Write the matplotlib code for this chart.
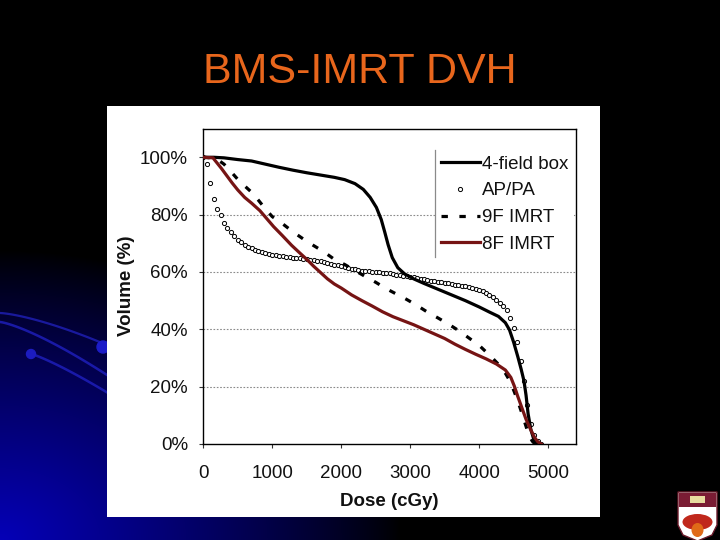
import numpy as np
import matplotlib
matplotlib.use("Agg")
import matplotlib.pyplot as plt
from matplotlib.ticker import FuncFormatter
from matplotlib.lines import Line2D
from matplotlib.patches import Rectangle, Polygon, Circle, Ellipse

plt.rcParams['font.family'] = ['Liberation Sans', 'DejaVu Sans']

# ---------------- data ----------------
title = "BMS-IMRT DVH"
x_label = "Dose (cGy)"
y_label = "Volume (%)"
x_ticks = [0, 1000, 2000, 3000, 4000, 5000]
y_ticks = [0, 20, 40, 60, 80, 100]
series_names = ["4-field box", "AP/PA", "9F IMRT", "8F IMRT"]

box_dose = [0, 150, 300, 500, 700, 900, 1100, 1300, 1500, 1700, 1900, 2050, 2200, 2320,
            2420, 2510, 2580, 2630, 2680, 2740, 2820, 2920, 3050, 3200, 3400, 3600, 3800,
            4000, 4150, 4280, 4380, 4440, 4500, 4560, 4610, 4650, 4680, 4710, 4750, 4790,
            4830, 4870]
box_vol = [100, 100, 99.8, 99.2, 98.7, 97.6, 96.5, 95.5, 94.6, 93.8, 93.0, 92.2, 90.8, 88.8,
           86.0, 82.5, 78.3, 74.0, 69.5, 65.0, 61.5, 59.3, 57.6, 56.0, 54.0, 52.0, 50.0,
           47.8, 46.0, 44.5, 42.3, 39.8, 35.5, 30.5, 26.0, 22.0, 17.0, 10.5, 5.0, 1.8,
           0.3, 0.0]

appa_dose = [0, 50, 100, 150, 200, 250, 300, 350, 400, 450, 500, 550, 600, 650, 700, 750,
             800, 850, 900, 950, 1000, 1050, 1100, 1150, 1200, 1250, 1300, 1350, 1400, 1450,
             1500, 1550, 1600, 1650, 1700, 1750, 1800, 1850, 1900, 1950, 2000, 2050, 2100,
             2150, 2200, 2250, 2300, 2350, 2400, 2450, 2500, 2550, 2600, 2650, 2700, 2750,
             2800, 2850, 2900, 2950, 3000, 3050, 3100, 3150, 3200, 3250, 3300, 3350, 3400,
             3450, 3500, 3550, 3600, 3650, 3700, 3750, 3800, 3850, 3900, 3950, 4000, 4050,
             4100, 4150, 4200, 4250, 4300, 4350, 4400, 4450, 4500, 4550, 4600, 4650, 4700,
             4750, 4800, 4850, 4900]
appa_vol = [100, 97.8, 91.0, 85.3, 82.0, 79.7, 77.2, 75.5, 73.9, 72.5, 71.3, 70.3, 69.5,
            68.8, 68.3, 67.8, 67.3, 66.9, 66.6, 66.2, 66.0, 65.8, 65.6, 65.4, 65.2, 65.1,
            65.0, 64.8, 64.7, 64.5, 64.4, 64.2, 64.1, 63.9, 63.7, 63.5, 63.2, 62.9, 62.6,
            62.3, 62.0, 61.7, 61.4, 61.1, 60.9, 60.7, 60.5, 60.4, 60.2, 60.1, 60.0, 59.9,
            59.8, 59.7, 59.5, 59.3, 59.1, 58.9, 58.7, 58.6, 58.4, 58.2, 58.0, 57.7, 57.4,
            57.1, 56.9, 56.7, 56.5, 56.4, 56.2, 56.0, 55.8, 55.6, 55.4, 55.2, 55.0, 54.8,
            54.5, 54.2, 53.8, 53.3, 52.8, 52.1, 51.2, 50.2, 49.2, 48.3, 46.8, 44.0, 40.5,
            35.5, 29.0, 22.0, 13.5, 7.0, 3.0, 0.9, 0.1]

f9_dose = [0, 150, 230, 300, 400, 500, 600, 700, 800, 900, 1000, 1150, 1300, 1450, 1600,
           1750, 1900, 2050, 2200, 2350, 2500, 2650, 2800, 2950, 3100, 3250, 3400, 3550,
           3700, 3850, 4000, 4150, 4280, 4380, 4450, 4510, 4570, 4620, 4670, 4720, 4770,
           4810]
f9_vol = [100, 99.7, 98.8, 97.6, 95.0, 92.3, 90.0, 87.8, 85.0, 82.0, 79.3, 76.8, 74.0, 71.5,
          69.2, 67.0, 64.4, 62.6, 60.5, 58.4, 56.4, 54.2, 52.3, 50.4, 48.3, 46.0, 44.0, 41.9,
          39.6, 37.0, 34.4, 31.0, 27.8, 24.7, 21.8, 18.2, 14.3, 10.7, 6.9, 3.2, 1.0, 0.0]

f8_dose = [0, 140, 200, 260, 340, 420, 500, 600, 700, 820, 920, 1020, 1150, 1280, 1400, 1500,
           1600, 1700, 1800, 1900, 2000, 2150, 2300, 2450, 2600, 2750, 2900, 3050, 3200,
           3350, 3500, 3650, 3800, 3950, 4100, 4250, 4380, 4460, 4510, 4560, 4620, 4680,
           4740, 4800, 4850, 4900]
f8_vol = [100, 99.8, 98.0, 96.2, 93.6, 91.0, 88.6, 86.0, 84.0, 81.4, 78.6, 75.8, 72.6, 69.3,
          66.6, 64.4, 62.0, 59.8, 57.6, 55.8, 54.4, 52.0, 50.0, 48.1, 46.1, 44.4, 43.0,
          41.6, 40.0, 38.4, 36.8, 34.8, 33.0, 31.3, 29.7, 27.9, 25.8, 23.2, 20.2, 16.6,
          12.6, 8.6, 5.4, 2.4, 0.8, 0.0]

# ---------------- figure ----------------
W, H = 720, 540
fig = plt.figure(figsize=(7.2, 5.4), dpi=100)
fig.patch.set_facecolor('black')

# background (slide)
bg = fig.add_axes([0, 0, 1, 1], zorder=0)
bg.set_xlim(0, W)
bg.set_ylim(H, 0)
bg.axis('off')
yy, xx = np.mgrid[0:H, 0:W]
d = np.sqrt((xx / 400.0) ** 2 + ((H - yy) / 290.0) ** 2)
inten = np.clip(1 - d, 0, 1) ** 0.85
img = np.zeros((H, W, 3))
img[..., 2] = 0.72 * inten
img[..., 0] = 0.02 * inten
bg.imshow(img, extent=(0, W, H, 0), aspect='auto', zorder=0)

# swooshes
sx = np.linspace(0, 110, 60)
bg.plot(sx, 313 + 32 * (sx / 107) ** 1.4, color='#2020b8', lw=1.6, alpha=0.8, zorder=1)
bg.plot(sx, 322 + 53 * (sx / 107) ** 1.3, color='#2020c0', lw=1.8, alpha=0.8, zorder=1)
sx2 = np.linspace(28, 110, 40)
bg.plot(sx2, 353 + 40 * ((sx2 - 28) / 80) ** 1.2, color='#2020c0', lw=1.8, alpha=0.8, zorder=1)
bg.add_patch(Circle((31, 354), 4.5, color='#1c1cc0', zorder=1))
bg.add_patch(Circle((103, 347), 6, color='#1c1cc8', zorder=1))

# white chart panel
bg.add_patch(Rectangle((107, 106), 493, 411, facecolor='white', edgecolor='none', zorder=2))

# logo (shield)
shield = Polygon([(678, 492), (717, 492), (717, 525), (712, 535), (697.5, 541),
                  (683, 535), (678, 525)], closed=True, facecolor='white',
                 edgecolor='#6a1a2a', lw=1.0, zorder=3)
bg.add_patch(shield)
bg.add_patch(Rectangle((679, 493), 37, 14, facecolor='#7a1c34', edgecolor='none', zorder=4))
bg.add_patch(Rectangle((690, 496), 15, 7, facecolor='#e8dca0', edgecolor='none', zorder=5))
bg.add_patch(Ellipse((697.5, 522), 30, 16, facecolor='#c0281c', edgecolor='none', zorder=4))
bg.add_patch(Ellipse((697.5, 530), 12, 14, facecolor='#e06a18', edgecolor='none', zorder=5))

# title
fig.text(360 / W, 1 - 83 / H, title, color='#e8661c', fontsize=31,
         ha='center', va='baseline')

# main axes
ax_left, ax_right = 203.3, 575.7
ax_bottom, ax_top = 444.0, 128.6
ax = fig.add_axes([ax_left / W, 1 - ax_bottom / H, (ax_right - ax_left) / W,
                   (ax_bottom - ax_top) / H], zorder=3)
ax.set_facecolor('white')
ax.set_xlim(0, 5400)
ax.set_ylim(0, 110)

for v in [20, 40, 60, 80]:
    ax.axhline(v, color='#8a8a8a', lw=0.8, ls=(0, (1.5, 1.5)), zorder=1)

ax.plot(appa_dose, appa_vol, ls='none', marker='o', ms=3.0, mfc='white', mec='black',
        mew=0.7, zorder=2)
ax.plot(f9_dose, f9_vol, color='black', lw=2.3, ls=(0, (2.0, 3.6)), zorder=3)
ax.plot(box_dose, box_vol, color='black', lw=2.3, zorder=4)
ax.plot(f8_dose, f8_vol, color='#761414', lw=2.3, zorder=5)

ax.set_xticks(x_ticks)
ax.set_yticks(y_ticks)
ax.yaxis.set_major_formatter(FuncFormatter(lambda v, p: f"{v:.0f}%"))
ax.tick_params(axis='both', direction='out', length=3, width=0.8, color='#333333',
               labelsize=13.5, labelcolor='#111111')
ax.tick_params(axis='x', pad=12)
ax.tick_params(axis='y', pad=8)
for s in ax.spines.values():
    s.set_color('black')
    s.set_linewidth(1.0)

ax.set_xlabel(x_label, fontsize=13.5, fontweight='bold', color='#111111')
ax.set_ylabel(y_label, fontsize=13.5, fontweight='bold', color='#111111')
ax.xaxis.set_label_coords(0.5, -0.183)
ax.xaxis.label.set_va('center')
ax.yaxis.set_label_coords(-0.206, 0.502)
ax.yaxis.label.set_va('center')

handles = [
    Line2D([], [], color='black', lw=2.3),
    Line2D([], [], ls='none', marker='o', ms=3.0, mfc='white', mec='black', mew=0.7),
    Line2D([], [], color='black', lw=2.3, ls=(0, (2.0, 3.6))),
    Line2D([], [], color='#761414', lw=2.3),
]
lx = (435 - ax_left) / (ax_right - ax_left)
ly_top = (ax_bottom - 150) / (ax_bottom - ax_top)
ly_bot = (ax_bottom - 257) / (ax_bottom - ax_top)
leg = ax.legend(handles, series_names, loc='upper left', bbox_to_anchor=(lx, ly_top),
                fontsize=13.5, frameon=True, facecolor='white', edgecolor='white',
                framealpha=1.0, fancybox=False, handlelength=2.1, handletextpad=0.1,
                labelspacing=0.51, borderpad=0.3, borderaxespad=0.0)
leg.get_frame().set_linewidth(0)
for t in leg.get_texts():
    t.set_color('#111111')
leg.set_zorder(10)
ax.add_line(Line2D([lx, lx], [ly_bot, ly_top], transform=ax.transAxes, color='#8a8a8a',
                   lw=0.9, clip_on=False, zorder=11))

fig.savefig('out.png', dpi=100, facecolor=fig.get_facecolor())
